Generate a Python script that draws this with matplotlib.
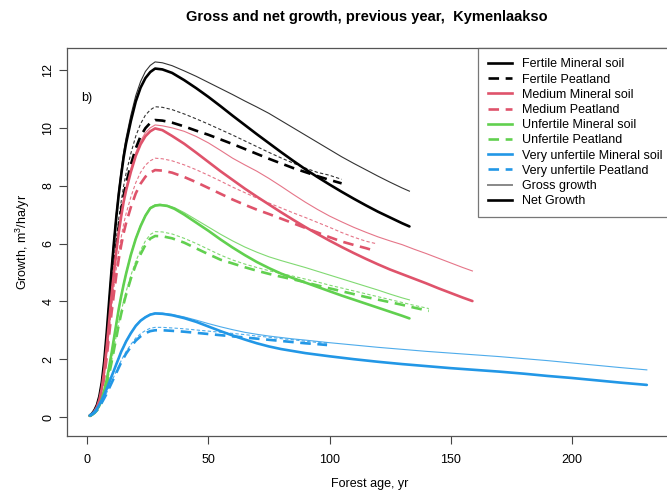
import matplotlib
matplotlib.use("Agg")
import matplotlib.pyplot as plt
from matplotlib.lines import Line2D

plt.rcParams['font.family'] = ['Liberation Sans', 'DejaVu Sans']
plt.rcParams['mathtext.default'] = 'regular'

# ---------------- data ----------------
rise_ages = [1, 2, 3, 4, 5, 6, 7, 8, 9, 10, 11, 12, 13, 14, 15, 16, 18, 20, 22, 24, 26, 28]

# Fertile
fm_ages = rise_ages + [31, 35, 40, 45, 50, 55, 60, 65, 70, 75, 80, 85, 90, 95, 100,
                       105, 110, 115, 120, 125, 130, 133]
fm_net = [0.05, 0.12, 0.24, 0.42, 0.72, 1.2, 1.93, 2.89, 3.98, 5.06, 6.03, 6.93, 7.71,
          8.37, 8.98, 9.46, 10.24, 10.91, 11.39, 11.72, 11.93, 12.05,
          12.02, 11.9, 11.65, 11.37, 11.07, 10.75, 10.42, 10.1, 9.78, 9.47, 9.16, 8.86,
          8.57, 8.3, 8.04, 7.79, 7.55, 7.32, 7.1, 6.9, 6.7, 6.59]
fm_gross = [0.05, 0.12, 0.25, 0.43, 0.74, 1.23, 1.96, 2.95, 4.05, 5.16, 6.14, 7.06, 7.86,
            8.53, 9.15, 9.64, 10.44, 11.11, 11.6, 11.95, 12.16, 12.28,
            12.25, 12.15, 11.97, 11.78, 11.57, 11.36, 11.15, 10.93, 10.72, 10.5, 10.25,
            10.0, 9.75, 9.5, 9.25, 9.0, 8.77, 8.55, 8.33, 8.12, 7.92, 7.81]
fp_ages = rise_ages + [31, 35, 40, 45, 50, 55, 60, 65, 70, 75, 80, 85, 90, 95, 100, 105]
fp_net = [0.04, 0.1, 0.21, 0.36, 0.62, 1.03, 1.64, 2.46, 3.39, 4.31, 5.14, 5.91, 6.57,
          7.14, 7.65, 8.06, 8.73, 9.29, 9.71, 9.99, 10.17, 10.27,
          10.25, 10.18, 10.05, 9.9, 9.76, 9.6, 9.44, 9.27, 9.1, 8.93, 8.77, 8.61, 8.47,
          8.33, 8.2, 8.08]
fp_gross = [0.04, 0.11, 0.21, 0.38, 0.64, 1.07, 1.72, 2.58, 3.54, 4.51, 5.37, 6.17, 6.87,
            7.46, 7.99, 8.42, 9.12, 9.71, 10.14, 10.44, 10.62, 10.73,
            10.71, 10.63, 10.48, 10.31, 10.13, 9.94, 9.75, 9.55, 9.35, 9.15, 8.96, 8.78,
            8.61, 8.46, 8.36, 8.22]
# Medium
mm_ages = rise_ages + [31, 35, 40, 45, 50, 55, 60, 65, 70, 75, 80, 85, 90, 95, 100, 105,
                       110, 115, 120, 125, 130, 135, 140, 145, 150, 155, 159]
mm_net = [0.04, 0.1, 0.2, 0.35, 0.6, 1.0, 1.6, 2.4, 3.29, 4.19, 4.99, 5.74, 6.39, 6.94,
          7.44, 7.83, 8.48, 9.03, 9.43, 9.71, 9.88, 9.98,
          9.92, 9.72, 9.45, 9.14, 8.82, 8.5, 8.2, 7.9, 7.62, 7.35, 7.08, 6.82, 6.57, 6.33,
          6.1, 5.88, 5.67, 5.47, 5.28, 5.1, 4.94, 4.78, 4.62, 4.45, 4.29, 4.13, 4.01]
mm_gross = [0.04, 0.1, 0.2, 0.35, 0.61, 1.01, 1.62, 2.42, 3.33, 4.24, 5.05, 5.81, 6.46,
            7.02, 7.52, 7.93, 8.59, 9.14, 9.54, 9.83, 10.0, 10.1,
            10.07, 10.0, 9.88, 9.7, 9.48, 9.22, 8.95, 8.72, 8.5, 8.25, 7.98, 7.7, 7.43,
            7.18, 6.95, 6.75, 6.56, 6.39, 6.23, 6.09, 5.96, 5.8, 5.65, 5.49, 5.33, 5.17, 5.05]
mp_ages = rise_ages + [31, 35, 40, 45, 50, 55, 60, 65, 70, 75, 80, 85, 90, 95, 100, 105,
                       110, 115, 119]
mp_net = [0.03, 0.09, 0.17, 0.3, 0.51, 0.85, 1.37, 2.05, 2.82, 3.59, 4.27, 4.91, 5.47,
          5.94, 6.36, 6.7, 7.26, 7.73, 8.07, 8.31, 8.45, 8.54,
          8.52, 8.45, 8.3, 8.12, 7.92, 7.72, 7.52, 7.34, 7.17, 7.02, 6.86, 6.7, 6.54,
          6.38, 6.22, 6.07, 5.95, 5.84, 5.74]
mp_gross = [0.04, 0.09, 0.18, 0.31, 0.54, 0.9, 1.43, 2.15, 2.95, 3.76, 4.48, 5.15, 5.73,
            6.22, 6.67, 7.03, 7.61, 8.1, 8.46, 8.71, 8.86, 8.95,
            8.93, 8.86, 8.72, 8.55, 8.36, 8.16, 7.95, 7.76, 7.57, 7.4, 7.23, 7.06, 6.9,
            6.73, 6.56, 6.38, 6.22, 6.08, 6.0]
# Unfertile
um_ages = rise_ages + [30, 33, 36, 40, 45, 50, 55, 60, 65, 70, 75, 80, 85, 90, 95, 100,
                       105, 110, 115, 120, 125, 130, 133]
um_net = [0.04, 0.09, 0.16, 0.26, 0.4, 0.62, 0.92, 1.28, 1.72, 2.2, 2.71, 3.23, 3.74,
          4.18, 4.58, 4.95, 5.61, 6.16, 6.6, 6.96, 7.22, 7.31,
          7.33, 7.3, 7.2, 7.0, 6.72, 6.44, 6.14, 5.86, 5.6, 5.36, 5.15, 4.96, 4.8, 4.65,
          4.5, 4.35, 4.2, 4.06, 3.92, 3.78, 3.64, 3.5, 3.41]
um_gross = [0.04, 0.09, 0.16, 0.26, 0.41, 0.63, 0.93, 1.3, 1.74, 2.22, 2.74, 3.26, 3.77,
            4.21, 4.61, 4.98, 5.64, 6.19, 6.63, 6.99, 7.25, 7.34,
            7.36, 7.32, 7.24, 7.07, 6.82, 6.57, 6.32, 6.09, 5.88, 5.7, 5.54, 5.41, 5.29,
            5.17, 5.04, 4.91, 4.78, 4.65, 4.52, 4.39, 4.25, 4.12, 4.05]
up_ages = rise_ages + [31, 35, 40, 45, 50, 55, 60, 65, 70, 75, 80, 85, 90, 95, 100, 105,
                       110, 115, 120, 125, 130, 135, 141]
up_net = [0.03, 0.08, 0.14, 0.23, 0.34, 0.53, 0.78, 1.1, 1.47, 1.88, 2.32, 2.75, 3.19,
          3.57, 3.91, 4.23, 4.79, 5.26, 5.63, 5.95, 6.17, 6.26,
          6.25, 6.18, 6.03, 5.83, 5.63, 5.44, 5.31, 5.18, 5.06, 4.95, 4.85, 4.76, 4.66,
          4.55, 4.45, 4.35, 4.25, 4.15, 4.06, 3.97, 3.88, 3.78, 3.67]
up_gross = [0.03, 0.08, 0.14, 0.23, 0.35, 0.54, 0.8, 1.12, 1.51, 1.92, 2.37, 2.82, 3.27,
            3.65, 4.01, 4.33, 4.9, 5.38, 5.77, 6.09, 6.31, 6.41,
            6.4, 6.33, 6.18, 6.0, 5.8, 5.6, 5.43, 5.29, 5.17, 5.06, 4.96, 4.87, 4.77,
            4.67, 4.56, 4.46, 4.36, 4.26, 4.16, 4.06, 3.96, 3.86, 3.75]
# Very unfertile
vm_ages = rise_ages + [31, 35, 40, 45, 50, 55, 60, 65, 70, 75, 80, 85, 90, 100, 110, 120,
                       130, 140, 150, 160, 170, 180, 190, 200, 210, 220, 231]
vm_net = [0.05, 0.11, 0.18, 0.29, 0.43, 0.59, 0.77, 0.97, 1.18, 1.4, 1.61, 1.83, 2.04,
          2.26, 2.43, 2.61, 2.9, 3.15, 3.33, 3.45, 3.54, 3.58,
          3.57, 3.52, 3.42, 3.29, 3.13, 2.97, 2.82, 2.68, 2.55, 2.44, 2.35, 2.28, 2.21,
          2.1, 2.0, 1.91, 1.83, 1.76, 1.69, 1.63, 1.57, 1.5, 1.42, 1.35, 1.27, 1.19, 1.11]
vm_gross = [0.05, 0.11, 0.18, 0.29, 0.43, 0.6, 0.77, 0.97, 1.19, 1.4, 1.62, 1.84, 2.05,
            2.27, 2.45, 2.63, 2.92, 3.17, 3.35, 3.47, 3.56, 3.6,
            3.59, 3.55, 3.46, 3.35, 3.23, 3.12, 3.02, 2.93, 2.86, 2.8, 2.75, 2.7, 2.66,
            2.57, 2.49, 2.41, 2.34, 2.27, 2.21, 2.15, 2.09, 2.02, 1.95, 1.87, 1.79, 1.71, 1.63]
vp_ages = rise_ages + [31, 35, 40, 45, 50, 55, 60, 65, 70, 75, 80, 85, 90, 95, 99]
vp_net = [0.04, 0.09, 0.15, 0.24, 0.36, 0.5, 0.65, 0.81, 0.99, 1.17, 1.35, 1.53, 1.71,
          1.89, 2.04, 2.19, 2.43, 2.64, 2.79, 2.9, 2.97, 3.0,
          3.0, 2.98, 2.95, 2.91, 2.87, 2.83, 2.79, 2.75, 2.71, 2.67, 2.63, 2.59, 2.55,
          2.52, 2.49]
vp_gross = [0.04, 0.09, 0.16, 0.25, 0.37, 0.51, 0.67, 0.84, 1.02, 1.21, 1.4, 1.58, 1.77,
            1.95, 2.11, 2.26, 2.51, 2.73, 2.88, 2.99, 3.07, 3.1,
            3.1, 3.08, 3.05, 3.01, 2.97, 2.93, 2.89, 2.85, 2.8, 2.76, 2.71, 2.67, 2.62,
            2.58, 2.55]

legend_labels = ["Fertile Mineral soil", "Fertile Peatland", "Medium Mineral soil",
                 "Medium Peatland", "Unfertile Mineral soil", "Unfertile Peatland",
                 "Very unfertile Mineral soil", "Very unfertile Peatland",
                 "Gross growth", "Net Growth"]

x_ticks = [0, 50, 100, 150, 200]
y_ticks = [0, 2, 4, 6, 8, 10, 12]

# ---------------- styles ----------------
c_black, c_red, c_green, c_blue = "#000000", "#DF536B", "#61D04F", "#2297E6"
net_lw, gross_lw = 1.9, 0.8
dash_thick = (0, (4, 2.5))
dash_thin = (0, (3, 2))

fig = plt.figure(figsize=(6.67, 4.91), dpi=100)
ax = fig.add_axes([0.1, 0.113, 0.9075, 0.7886])

series = [
    (fm_ages, fm_gross, c_black, 'gross', False),
    (fp_ages, fp_gross, c_black, 'gross', True),
    (mm_ages, mm_gross, c_red, 'gross', False),
    (mp_ages, mp_gross, c_red, 'gross', True),
    (um_ages, um_gross, c_green, 'gross', False),
    (up_ages, up_gross, c_green, 'gross', True),
    (vm_ages, vm_gross, c_blue, 'gross', False),
    (vp_ages, vp_gross, c_blue, 'gross', True),
    (fm_ages, fm_net, c_black, 'net', False),
    (fp_ages, fp_net, c_black, 'net', True),
    (mm_ages, mm_net, c_red, 'net', False),
    (mp_ages, mp_net, c_red, 'net', True),
    (um_ages, um_net, c_green, 'net', False),
    (up_ages, up_net, c_green, 'net', True),
    (vm_ages, vm_net, c_blue, 'net', False),
    (vp_ages, vp_net, c_blue, 'net', True),
]
for xs, ys, col, kind, peat in series:
    if kind == 'net':
        ax.plot(xs, ys, color=col, lw=net_lw, ls=dash_thick if peat else '-',
                solid_capstyle='round', solid_joinstyle='round')
    else:
        ax.plot(xs, ys, color=col, lw=gross_lw, alpha=0.8,
                ls=dash_thin if peat else '-')

ax.set_xlim(-8.5, 241.4)
ax.set_ylim(-0.64, 12.75)
ax.set_xticks(x_ticks)
ax.set_yticks(y_ticks)
ax.tick_params(axis='both', direction='out', length=6, width=0.8, color='#444444',
               labelsize=9)
ax.tick_params(axis='x', pad=7)
ax.tick_params(axis='y', pad=3)
for lbl in ax.get_yticklabels():
    lbl.set_rotation(90)
    lbl.set_va('center')
for s in ax.spines.values():
    s.set_color('#555555')
    s.set_linewidth(0.9)

ax.set_xlabel("Forest age, yr", fontsize=9, labelpad=9)
ax.set_ylabel("Growth, m$^3$/ha/yr", fontsize=9, labelpad=7)
fig.text(0.55, 0.965, "Gross and net growth, previous year,  Kymenlaakso",
         ha='center', va='center', fontsize=10.5, fontweight='bold')
ax.text(-2.7, 11.03, "b)", fontsize=9, ha='left', va='center')

leg_styles = [
    (c_black, net_lw, '-'), (c_black, net_lw, dash_thick),
    (c_red, net_lw, '-'), (c_red, net_lw, dash_thick),
    (c_green, net_lw, '-'), (c_green, net_lw, dash_thick),
    (c_blue, net_lw, '-'), (c_blue, net_lw, dash_thick),
    ("#888888", 1.4, '-'), (c_black, net_lw, '-'),
]
handles = [Line2D([], [], color=c, lw=w, ls=l) for c, w, l in leg_styles]
leg = ax.legend(handles, legend_labels, loc='upper right', bbox_to_anchor=(1.0, 1.0),
                borderaxespad=0, fontsize=9, frameon=True, fancybox=False,
                edgecolor='#555555', handlelength=1.85, handletextpad=0.8,
                labelspacing=0.256, borderpad=0.8)
leg.get_frame().set_linewidth(0.9)

fig.savefig("out.png", dpi=100)
